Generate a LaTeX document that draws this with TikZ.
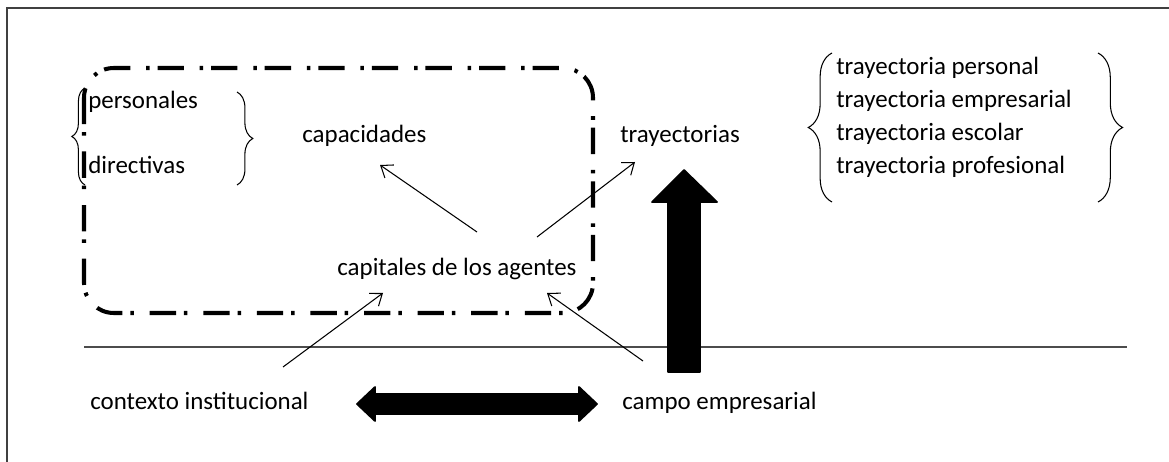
\documentclass[tikz,border=0pt]{standalone}
\usepackage{fontspec}
\setmainfont{Carlito}
\usetikzlibrary{arrows.meta,decorations.pathreplacing}

\begin{document}
\begin{tikzpicture}[x=0.02cm, y=-0.02cm,
  texto/.style={inner sep=0pt, anchor=base west, font=\fontsize{14.2pt}{17pt}\selectfont},
  llave/.style={decorate, decoration={brace, amplitude=#1}, line width=0.6pt},
  flecha/.style={-{Straight Barb[length=6pt,width=9pt]}, line width=0.6pt},
  bloque/.style={fill=black, draw=black, line join=round, line width=1pt}]

  \useasboundingbox (0,0) rectangle (1169,462);

  % Marco
  \draw[line width=1.1pt, black!75] (7,462) -- (7,8) -- (1169,8);

  % Recuadro de raya y punto
  \draw[line width=2.3pt, dash pattern=on 15pt off 4.5pt on 2pt off 9pt,
    rounded corners=17pt] (84,68) rectangle (593,313);

  % Linea horizontal
  \draw[line width=0.6pt, black!70] (84,347) -- (1127,347);

  % Textos
  \node[texto] (personales) at (88,109) {personales};
  \node[texto] (directivas) at (88,174) {directivas};
  \node[texto] (capacidades) at (302,143) {capacidades};
  \node[texto] (trayectorias) at (620,143) {trayectorias};
  \node[texto] (capitales) at (337,276) {capitales de los agentes};
  \node[texto] (contexto) at (90,409) {contexto institucional};
  \node[texto] (campo) at (622,409) {campo empresarial};

  % Lista de trayectorias
  \foreach \txt [count=\i] in {trayectoria personal, trayectoria empresarial,
      trayectoria escolar, trayectoria profesional}
    \node[texto] (tray\i) at (836,42+33*\i) {\txt};

  % Llaves
  \draw[llave=7.5pt] (85,185) -- (85,88);
  \draw[llave=9pt] (237,92) -- (237,185);
  \draw[llave=13.5pt] (832,202) -- (832,53);
  \draw[llave=14pt] (1098,53) -- (1098,202);

  % Extremos de las flechas finas
  \coordinate (capA) at (477,232);
  \coordinate (capB) at (380,165);
  \coordinate (trA) at (537,237);
  \coordinate (trB) at (635,162);
  \coordinate (coA) at (283,367);
  \coordinate (coB) at (383,293);
  \coordinate (caA) at (643,361);
  \coordinate (caB) at (547,293);

  % Flechas finas
  \draw[flecha] (capA) -- (capB);
  \draw[flecha] (trA) -- (trB);
  \draw[flecha] (coA) -- (coB);
  \draw[flecha] (caA) -- (caB);

  % Flecha vertical gruesa
  \filldraw[bloque] (684,170) -- (717,202) -- (700,202) -- (700,372)
    -- (668,372) -- (668,202) -- (652,202) -- cycle;

  % Flecha doble horizontal
  \filldraw[bloque] (357,404) -- (375,387) -- (375,394) -- (579,394)
    -- (579,387) -- (597,404) -- (579,421) -- (579,414) -- (375,414)
    -- (375,421) -- cycle;

\end{tikzpicture}
\end{document}
